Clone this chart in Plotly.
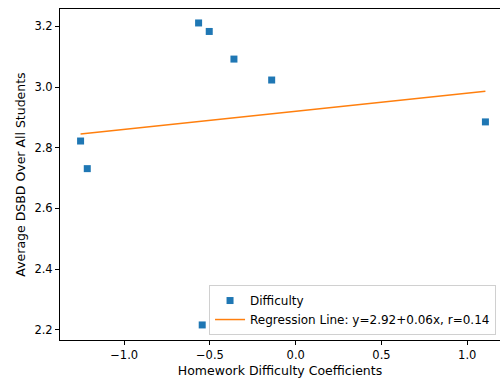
import plotly.graph_objects as go

# Data
coef_x = [-1.254, -1.215, -0.566, -0.504, -0.360, -0.140, 1.106, -0.545]
dsbd_y = [2.822, 2.731, 3.211, 3.183, 3.092, 3.023, 2.885, 2.216]
intercept = 2.92
slope = 0.06
r_value = 0.14

x_ticks = [-1.0, -0.5, 0.0, 0.5, 1.0]
x_tick_labels = ["\u22121.0", "\u22120.5", "0.0", "0.5", "1.0"]
y_ticks = [2.2, 2.4, 2.6, 2.8, 3.0, 3.2]
y_tick_labels = ["2.2", "2.4", "2.6", "2.8", "3.0", "3.2"]

line_x = [min(coef_x), max(coef_x)]
line_y = [intercept + slope * v for v in line_x]

font = "DejaVu Sans, sans-serif"

fig = go.Figure()
fig.add_trace(go.Scatter(
    x=coef_x, y=dsbd_y, mode="markers", name="Difficulty",
    marker=dict(symbol="square", size=7, color="#1f77b4"),
))
fig.add_trace(go.Scatter(
    x=line_x, y=line_y, mode="lines",
    name=f"Regression Line: y={intercept:.2f}+{slope:.2f}x, r={r_value:.2f}",
    line=dict(color="#ff7f0e", width=1.5),
))

fig.update_layout(
    width=500, height=381,
    margin=dict(l=60, r=0, t=9, b=41),
    paper_bgcolor="white", plot_bgcolor="white",
    font=dict(family=font, size=12, color="black"),
    legend=dict(
        x=0.991, y=0.015, xanchor="right", yanchor="bottom",
        bgcolor="rgba(255,255,255,0.8)", bordercolor="#d0d0d0", borderwidth=1,
        font=dict(family=font, size=12, color="black"),
        tracegroupgap=0,
    ),
    xaxis=dict(
        range=[-1.374, 1.191], tickvals=x_ticks, ticktext=x_tick_labels,
        showgrid=False, zeroline=False, showline=True, linecolor="black",
        linewidth=1, mirror=True, ticks="outside", ticklen=4, tickcolor="black",
        tickfont=dict(size=11.5),
        title=dict(text="Homework Difficulty Coefficients", font=dict(size=12.5), standoff=5),
    ),
    yaxis=dict(
        range=[2.1664, 3.257], tickvals=y_ticks, ticktext=y_tick_labels,
        showgrid=False, zeroline=False, showline=True, linecolor="black",
        linewidth=1, ticks="outside", ticklen=4, tickcolor="black",
        tickfont=dict(size=11.5),
        title=dict(text="Average DSBD Over All Students", font=dict(size=12.5), standoff=6),
    ),
)

fig.write_html(
    "out.html",
    config={"displayModeBar": False},
    post_script="document.body.style.margin='0';document.body.style.overflow='hidden';",
)
